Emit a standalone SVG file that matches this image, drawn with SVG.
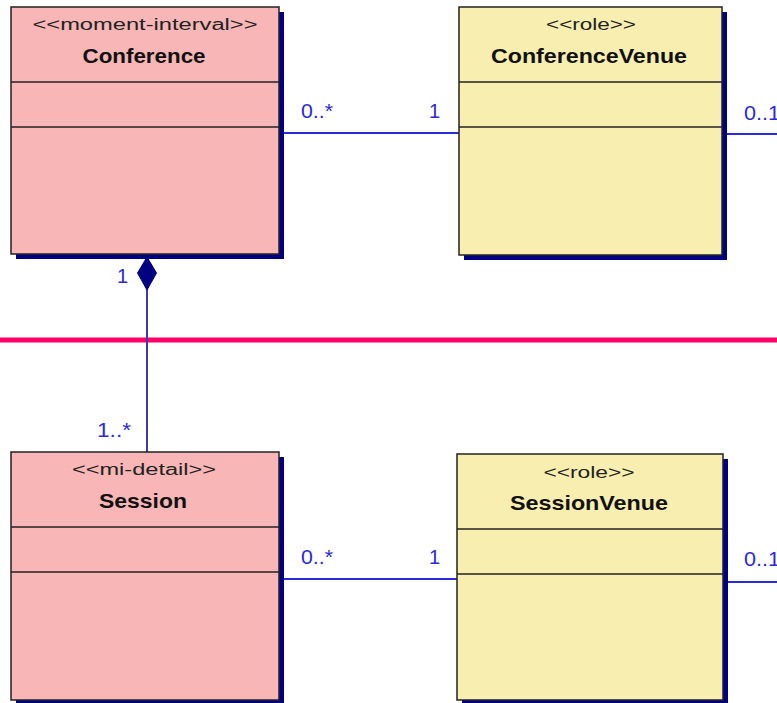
<svg xmlns="http://www.w3.org/2000/svg" width="777" height="703" viewBox="0 0 777 703">
<style>
.shadow{fill:#000080}
.box{stroke:#222;stroke-width:1.5}
.mi{fill:#f8b6b6}
.role{fill:#f7eeb0}
.div{stroke:#222;stroke-width:1.5}
.st{font-family:"Liberation Sans",Arial,sans-serif;font-size:16px;fill:#222;text-anchor:middle}
.nm{font-family:"Liberation Sans",Arial,sans-serif;font-size:21px;font-weight:bold;fill:#111;text-anchor:middle}
.lbl{font-family:"Liberation Sans",Arial,sans-serif;font-size:20px;fill:#2a2ad8}
.conn{stroke:#2a2ae0;stroke-width:2;fill:none}
</style>
<rect width="777" height="703" fill="#fff"/>
<line x1="0" y1="340" x2="777" y2="340" stroke="#ff0066" stroke-width="5"/>
<g id="connectors">
<line class="conn" x1="284" y1="133" x2="459" y2="133"/>
<line class="conn" x1="727" y1="134" x2="777" y2="134"/>
<line class="conn" x1="284" y1="579" x2="457" y2="579"/>
<line class="conn" x1="728" y1="582" x2="777" y2="582"/>
<line x1="147" y1="289" x2="147" y2="452" stroke="#3c3ca0" stroke-width="2"/>
<polygon points="147,257 156.5,273 147,290 137.5,273" fill="#000080" stroke="#000080" stroke-width="1"/>
<text class="lbl" x="301" y="118" textLength="32" lengthAdjust="spacingAndGlyphs">0..*</text>
<text class="lbl" x="429" y="118">1</text>
<text class="lbl" x="744" y="120" textLength="36" lengthAdjust="spacingAndGlyphs">0..1</text>
<text class="lbl" x="117" y="283">1</text>
<text class="lbl" x="97" y="437" textLength="34" lengthAdjust="spacingAndGlyphs">1..*</text>
<text class="lbl" x="301" y="564" textLength="32" lengthAdjust="spacingAndGlyphs">0..*</text>
<text class="lbl" x="429" y="564">1</text>
<text class="lbl" x="744" y="566" textLength="36" lengthAdjust="spacingAndGlyphs">0..1</text>
</g>
<g id="Conference">
<rect class="shadow" x="16" y="12" width="268" height="247"/>
<rect class="box mi" x="11" y="7" width="268" height="247"/>
<line class="div" x1="11" y1="82" x2="279" y2="82"/>
<line class="div" x1="11" y1="127" x2="279" y2="127"/>
<text class="st" x="145" y="30" textLength="225" lengthAdjust="spacingAndGlyphs">&lt;&lt;moment-interval&gt;&gt;</text>
<text class="nm" x="144" y="63" textLength="123" lengthAdjust="spacingAndGlyphs">Conference</text>
</g>
<g id="ConferenceVenue">
<rect class="shadow" x="464" y="12" width="263" height="248"/>
<rect class="box role" x="459" y="7" width="263" height="248"/>
<line class="div" x1="459" y1="82" x2="722" y2="82"/>
<line class="div" x1="459" y1="127" x2="722" y2="127"/>
<text class="st" x="591" y="30" textLength="90" lengthAdjust="spacingAndGlyphs">&lt;&lt;role&gt;&gt;</text>
<text class="nm" x="589" y="63" textLength="196" lengthAdjust="spacingAndGlyphs">ConferenceVenue</text>
</g>
<g id="Session">
<rect class="shadow" x="16" y="457" width="268" height="250"/>
<rect class="box mi" x="11" y="452" width="268" height="248"/>
<line class="div" x1="11" y1="527" x2="279" y2="527"/>
<line class="div" x1="11" y1="572" x2="279" y2="572"/>
<text class="st" x="144" y="475" textLength="144" lengthAdjust="spacingAndGlyphs">&lt;&lt;mi-detail&gt;&gt;</text>
<text class="nm" x="143" y="508" textLength="88" lengthAdjust="spacingAndGlyphs">Session</text>
</g>
<g id="SessionVenue">
<rect class="shadow" x="462" y="459" width="266" height="250"/>
<rect class="box role" x="457" y="454" width="266" height="246"/>
<line class="div" x1="457" y1="529" x2="723" y2="529"/>
<line class="div" x1="457" y1="574" x2="723" y2="574"/>
<text class="st" x="589" y="478" textLength="91" lengthAdjust="spacingAndGlyphs">&lt;&lt;role&gt;&gt;</text>
<text class="nm" x="589" y="510" textLength="158" lengthAdjust="spacingAndGlyphs">SessionVenue</text>
</g>
</svg>
